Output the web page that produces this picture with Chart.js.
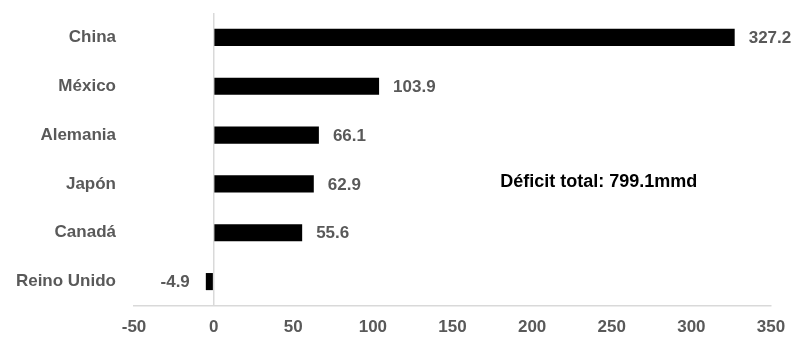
<!DOCTYPE html>
<html>
<head>
<meta charset="utf-8">
<script src="https://cdn.jsdelivr.net/npm/chart.js@4/dist/chart.umd.min.js"></script>
<style>
  html, body { margin: 0; padding: 0; background: #fff; }
  #wrap { width: 802px; height: 343px; }
</style>
</head>
<body>
<div id="wrap"><canvas id="chart" width="802" height="343"></canvas></div>
<script>
const countries = ['China', 'México', 'Alemania', 'Japón', 'Canadá', 'Reino Unido'];
const deficit   = [327.2, 103.9, 66.1, 62.9, 55.6, -4.9];
const xTicks    = [-50, 0, 50, 100, 150, 200, 250, 300, 350];
const noteText  = 'Déficit total: 799.1mmd';

const FONT = '"Liberation Sans Narrow", "Arial Narrow", "Liberation Sans", Arial, sans-serif';
const GREY = '#595959';

// etiquetas de valor al final de cada barra + nota
const labelsPlugin = {
  id: 'valueLabels',
  afterDatasetsDraw(chart) {
    const ctx = chart.ctx;
    const meta = chart.getDatasetMeta(0);
    ctx.save();
    ctx.font = 'bold 17px ' + FONT;
    ctx.fillStyle = GREY;
    ctx.textBaseline = 'middle';
    meta.data.forEach((bar, i) => {
      const v = deficit[i];
      const txt = v.toFixed(1);
      if (v >= 0) {
        ctx.textAlign = 'left';
        ctx.fillText(txt, bar.x + 14, bar.y + 1);
      } else {
        ctx.textAlign = 'right';
        ctx.fillText(txt, bar.x - 16, bar.y + 1);
      }
    });
    const xs = chart.scales.x, ys = chart.scales.y;
    ctx.font = 'bold 18px ' + FONT;
    ctx.fillStyle = '#000';
    ctx.textAlign = 'left';
    ctx.fillText(noteText, xs.getPixelForValue(180), ys.getPixelForValue(3) - 2);
    ctx.restore();
  }
};

new Chart(document.getElementById('chart'), {
  type: 'bar',
  data: {
    labels: countries,
    datasets: [{
      data: deficit,
      backgroundColor: '#000',
      borderWidth: 0,
      barPercentage: 0.7,
      categoryPercentage: 0.5,
    }]
  },
  options: {
    indexAxis: 'y',
    responsive: false,
    animation: false,
    layout: { padding: { top: 13, right: 31, left: 0, bottom: 0 } },
    plugins: { legend: { display: false }, tooltip: { enabled: false } },
    scales: {
      x: {
        min: -50, max: 350,
        afterBuildTicks: s => { s.ticks = xTicks.map(v => ({ value: v })); },
        afterFit: s => { s.height = 37; s.paddingLeft = 0; s.paddingRight = 0; },
        grid: {
          drawTicks: false,
          color: c => (c.tick && c.tick.value === 0) ? '#d9d9d9' : 'rgba(0,0,0,0)',
          lineWidth: 1.5,
        },
        border: { display: true, color: '#d9d9d9', width: 1.5 },
        ticks: { color: GREY, font: { family: FONT, size: 17, weight: 'bold' }, padding: 11 },
      },
      y: {
        afterFit: s => { s.width = 134; s.paddingTop = 0; s.paddingBottom = 0; },
        grid: { display: false, drawTicks: false },
        border: { display: false },
        ticks: { color: GREY, font: { family: FONT, size: 17, weight: 'bold' }, padding: 18 },
      }
    }
  },
  plugins: [labelsPlugin]
});
</script>
</body>
</html>
